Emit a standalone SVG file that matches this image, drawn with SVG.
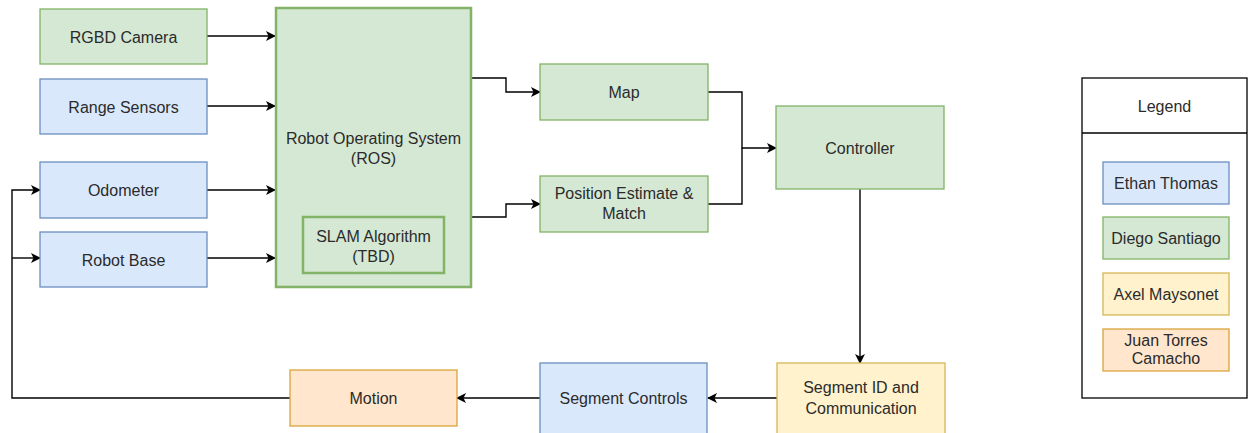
<svg xmlns="http://www.w3.org/2000/svg" width="1249" height="433" viewBox="0 0 1249 433">
<style>
text{font-family:"Liberation Sans",Arial,sans-serif;font-size:16px;fill:#2b2b2b;text-anchor:middle}
.g{fill:#d5e8d4;stroke:#82b366;stroke-width:1.3}
.b{fill:#dae8fc;stroke:#6c8ebf;stroke-width:1.3}
.y{fill:#fff2cc;stroke:#d6b656;stroke-width:1.3}
.o{fill:#ffe6cc;stroke:#d9a53c;stroke-width:1.3}
.w{fill:#ffffff;stroke:#000000;stroke-width:1.3}
.c{fill:none;stroke:#000;stroke-width:1.4}
</style>
<defs>
<marker id="ah" viewBox="0 0 10 10" refX="9" refY="5" markerWidth="10" markerHeight="10" markerUnits="userSpaceOnUse" orient="auto">
<path d="M0,0 L10,5 L0,10 L2.5,5 Z" fill="#000"/>
</marker>
</defs>
<g id="connectors">
<path class="c" d="M207,36 H275" marker-end="url(#ah)"/>
<path class="c" d="M207,106 H275" marker-end="url(#ah)"/>
<path class="c" d="M207,190 H275" marker-end="url(#ah)"/>
<path class="c" d="M207,258 H275" marker-end="url(#ah)"/>
<path class="c" d="M471,78 H506 V92 H540" marker-end="url(#ah)"/>
<path class="c" d="M471,217 H506 V204 H540" marker-end="url(#ah)"/>
<path class="c" d="M708,92 H742 V148 H776" marker-end="url(#ah)"/>
<path class="c" d="M708,204 H742 V148"/>
<path class="c" d="M860,189 V363" marker-end="url(#ah)"/>
<path class="c" d="M777,398 H708" marker-end="url(#ah)"/>
<path class="c" d="M540,398 H457" marker-end="url(#ah)"/>
<path class="c" d="M290,398 H12 V190 H40" marker-end="url(#ah)"/>
<path class="c" d="M12,258 H40" marker-end="url(#ah)"/>
</g>
<g id="rgbd"><rect class="g" x="40" y="9" width="167" height="55"/><text x="123.5" y="42.5">RGBD Camera</text></g>
<g id="range"><rect class="b" x="40" y="79" width="167" height="55"/><text x="123.5" y="112.5">Range Sensors</text></g>
<g id="odometer"><rect class="b" x="40" y="162" width="167" height="56"/><text x="123.5" y="196">Odometer</text></g>
<g id="robotbase"><rect class="b" x="40" y="232" width="167" height="55"/><text x="123.5" y="265.5">Robot Base</text></g>
<g id="ros"><rect x="276" y="8" width="195" height="279" fill="#d5e8d4" stroke="#82b366" stroke-width="2.5"/><text x="373.5" y="144">Robot Operating System</text><text x="373.5" y="164">(ROS)</text></g>
<g id="slam"><rect x="303" y="217" width="141" height="56" fill="#d5e8d4" stroke="#82b366" stroke-width="2.5"/><text x="373.5" y="242">SLAM Algorithm</text><text x="373.5" y="262">(TBD)</text></g>
<g id="map"><rect class="g" x="540" y="64" width="168" height="56"/><text x="624" y="98">Map</text></g>
<g id="position"><rect class="g" x="540" y="176" width="168" height="56"/><text x="624" y="199">Position Estimate &amp;</text><text x="624" y="219">Match</text></g>
<g id="controller"><rect class="g" x="776" y="106" width="168" height="83"/><text x="860" y="153.5">Controller</text></g>
<g id="segid"><rect class="y" x="777" y="363" width="168" height="73"/><text x="861" y="393">Segment ID and</text><text x="861" y="414">Communication</text></g>
<g id="segctrl"><rect class="b" x="540" y="363" width="167" height="73"/><text x="623.5" y="404">Segment Controls</text></g>
<g id="motion"><rect class="o" x="290" y="370" width="167" height="56"/><text x="373.5" y="404">Motion</text></g>
<g id="legend">
<rect class="w" x="1082" y="78" width="165" height="320"/>
<line x1="1082" y1="133" x2="1247" y2="133" stroke="#000" stroke-width="1.3"/>
<text x="1164.5" y="112">Legend</text>
<rect class="b" x="1103" y="162" width="126" height="42"/><text x="1166" y="189">Ethan Thomas</text>
<rect class="g" x="1103" y="217" width="126" height="42"/><text x="1166" y="244">Diego Santiago</text>
<rect class="y" x="1103" y="273" width="126" height="42"/><text x="1166" y="300">Axel Maysonet</text>
<rect class="o" x="1103" y="329" width="126" height="42"/><text x="1166" y="346">Juan Torres</text><text x="1166" y="364">Camacho</text>
</g>
</svg>
